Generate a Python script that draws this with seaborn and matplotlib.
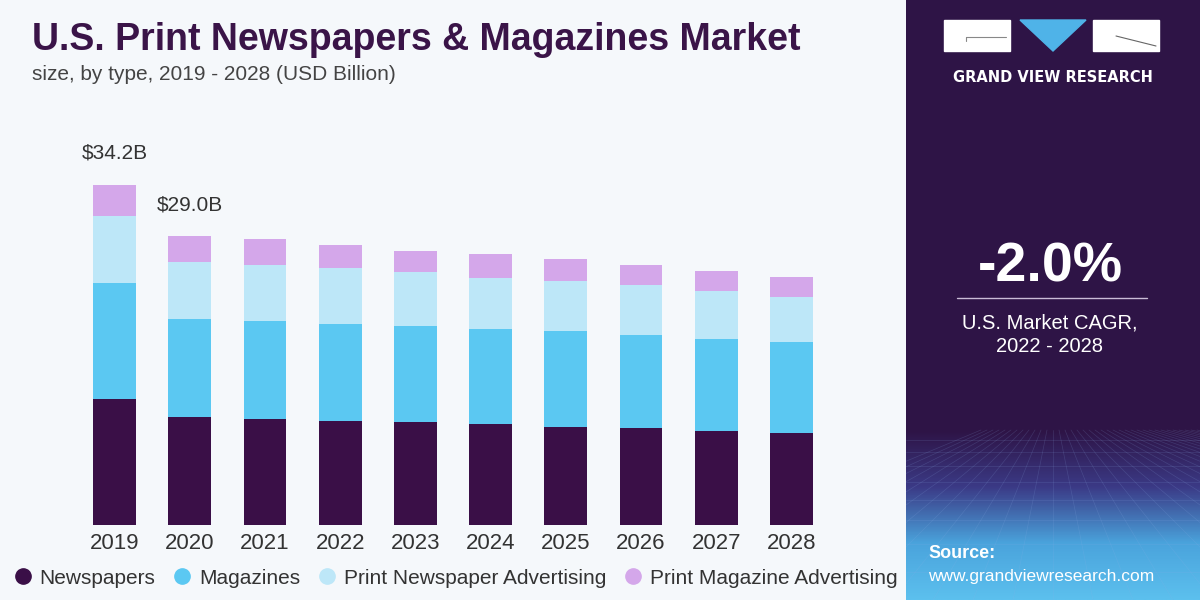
import numpy as np
import pandas as pd
import matplotlib
matplotlib.use("Agg")
import matplotlib.pyplot as plt
import matplotlib.patches as mpatches
from matplotlib import font_manager
import seaborn as sns

# data (USD Billion)
years = ["2019", "2020", "2021", "2022", "2023", "2024", "2025", "2026", "2027", "2028"]
newspapers = [12.65, 10.82, 10.62, 10.45, 10.32, 10.15, 9.88, 9.72, 9.45, 9.28]
magazines = [11.67, 9.92, 9.91, 9.75, 9.68, 9.52, 9.62, 9.38, 9.25, 9.08]
newspaper_ads = [6.70, 5.67, 5.60, 5.60, 5.40, 5.19, 5.03, 5.03, 4.85, 4.58]
magazine_ads = [3.18, 2.59, 2.61, 2.34, 2.17, 2.38, 2.18, 2.01, 2.01, 2.01]
series_names = ["Newspapers", "Magazines", "Print Newspaper Advertising", "Print Magazine Advertising"]
colors = ["#3a0f47", "#5bc8f2", "#bde7f8", "#d4a7ea"]
labels = {"2019": "$34.2B", "2020": "$29.0B"}

names = {f.name for f in font_manager.fontManager.ttflist}
narrow = "Liberation Sans Narrow" if "Liberation Sans Narrow" in names else "Liberation Sans"

sns.set_theme(style="white")
plt.rcParams["font.family"] = [narrow, "DejaVu Sans"]

bg = "#f5f8fb"
panel = "#2e1446"

fig = plt.figure(figsize=(12, 6), dpi=100, facecolor=bg)

# chart area
ax = fig.add_axes([77 / 1200, 75 / 600, 752 / 1200, 385 / 600])
ax.set_facecolor(bg)

df = pd.DataFrame({"year": years, "Newspapers": newspapers, "Magazines": magazines,
                   "Print Newspaper Advertising": newspaper_ads,
                   "Print Magazine Advertising": magazine_ads})
cum = df[series_names].cumsum(axis=1)

# draw tallest layer first so the lower layers cover it
for name, col in reversed(list(zip(series_names, colors))):
    sns.barplot(x=df["year"], y=cum[name], color=col, width=0.57, saturation=1,
                linewidth=0, ax=ax)

ax.set_xlim(-0.5, 9.5)
ax.set_ylim(0, 385 / 9.95)
ax.set_xlabel("")
ax.set_ylabel("")
ax.set_yticks([])
ax.tick_params(axis="x", length=0, pad=6, labelsize=16, labelcolor="#333333")
sns.despine(ax=ax, left=True, bottom=True)

totals = cum[series_names[-1]]
for i, y in enumerate(years):
    if y in labels:
        ax.text(i, totals[i] + 2.2, labels[y], ha="center", va="bottom",
                fontsize=15, color="#333333", family=["Liberation Sans", "DejaVu Sans"])

# titles
fig.text(32 / 1200, 1 - 40 / 600, "U.S. Print Newspapers & Magazines Market", fontsize=27,
         fontweight="bold", color="#3a1448", va="center", ha="left")
fig.text(32 / 1200, 1 - 75 / 600, "size, by type, 2019 - 2028 (USD Billion)", fontsize=15,
         color="#444444", va="center", ha="left")

# legend
handles = [plt.Line2D([], [], marker="o", ls="", markersize=11, markerfacecolor=c,
                      markeredgecolor=c) for c in colors]
fig.legend(handles, series_names, loc="center left", bbox_to_anchor=(2 / 1200, 1 - 578 / 600),
           ncol=4, frameon=False, fontsize=15, handletextpad=0.2, columnspacing=0.7,
           borderaxespad=0, handlelength=1.2, labelcolor="#333333")

# right panel
pax = fig.add_axes([906 / 1200, 0, 294 / 1200, 1])
pax.set_facecolor(panel)
pax.set_xticks([])
pax.set_yticks([])
for s in pax.spines.values():
    s.set_visible(False)
pax.imshow(np.linspace(0, 1, 100)[:, None], cmap=matplotlib.colors.LinearSegmentedColormap.from_list(
    "g2", [panel, "#3b3a86", "#4aa3dc", "#5cc0ee"]), extent=[0, 294, 600, 430], aspect="auto")
pax.set_ylim(600, 0)
pax.set_xlim(0, 294)
# faint perspective grid at the bottom
for k in range(-12, 26):
    pax.plot([147 + k * 6, 147 + k * 40], [430, 600], color="#8fb0e8", lw=0.5, alpha=0.18)
for yy in [440, 452, 466, 482, 500, 520, 544, 572]:
    pax.plot([0, 294], [yy, yy], color="#8fb0e8", lw=0.5, alpha=0.18)

# logo
pax.add_patch(mpatches.Rectangle((38, 20), 66, 31, color="white"))
pax.plot([60, 100], [37, 37], color="#888888", lw=0.8)
pax.plot([60, 60], [37, 41], color="#888888", lw=0.8)
pax.add_patch(mpatches.Polygon([(114, 20), (180, 20), (147, 51)], color="#4fb3e8"))
pax.add_patch(mpatches.Rectangle((187, 20), 66, 31, color="white"))
pax.plot([210, 250], [36, 46], color="#666666", lw=0.8)
pax.text(147, 77, "GRAND VIEW RESEARCH", color="white", fontsize=10.5, fontweight="bold",
         ha="center", va="center", family=["DejaVu Sans"])

pax.text(144, 268, "-2.0%", color="white", fontsize=40, fontweight="bold", ha="center",
         va="center", family=["Liberation Sans", "DejaVu Sans"])
pax.plot([51, 241], [298, 298], color="#c9bcd6", lw=1)
pax.text(144, 323, "U.S. Market CAGR,", color="white", fontsize=14.5, ha="center",
         va="center", family=["Liberation Sans", "DejaVu Sans"])
pax.text(144, 347, "2022 - 2028", color="white", fontsize=14.5, ha="center",
         va="center", family=["Liberation Sans", "DejaVu Sans"])
pax.text(22, 553, "Source:", color="white", fontsize=13, fontweight="bold", ha="left",
         va="center", family=["Liberation Sans", "DejaVu Sans"])
pax.text(22, 577, "www.grandviewresearch.com", color="white", fontsize=12.5, ha="left",
         va="center", family=["Liberation Sans", "DejaVu Sans"])

fig.savefig("out.png", dpi=100, facecolor=bg)
